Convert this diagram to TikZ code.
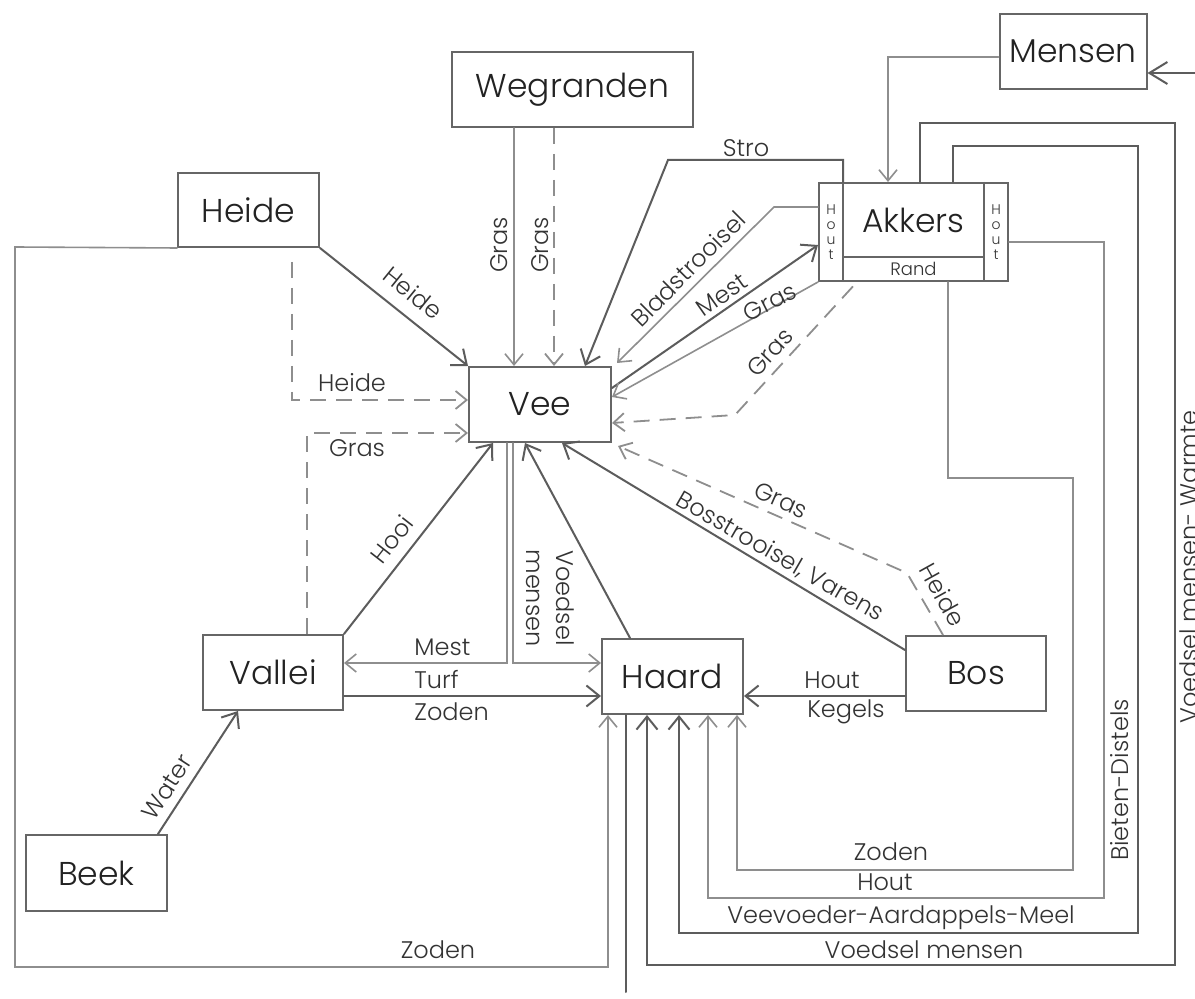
\documentclass[tikz,border=0pt]{standalone}
\usepackage{fontspec}
\setmainfont{Poppins Light}
\usetikzlibrary{arrows.meta,calc}
\definecolor{boxc}{HTML}{666666}
\definecolor{dkc}{HTML}{5C5C5C}
\definecolor{ltc}{HTML}{8E8E8E}
\definecolor{txt}{HTML}{222222}
\definecolor{lblc}{HTML}{333333}
\newcommand\myNodeFont{\fontsize{16.5}{18}\selectfont}
\newcommand\myLblFont{\fontsize{12}{15}\selectfont}
\begin{document}
\begin{tikzpicture}[x=0.5pt,y=-0.5pt,
  box/.style={draw=boxc, line width=1pt, minimum width=71pt, minimum height=37.5pt, inner sep=0pt, font=\myNodeFont, text=txt},
  dk/.style={draw=dkc, line width=1pt, line cap=round},
  lt/.style={draw=ltc, line width=0.8pt, line cap=round},
  dsh/.style={draw=ltc, line width=0.9pt, dash pattern=on 8pt off 5pt},
  tip/.style={-{Straight Barb[length=5.5pt,width=9pt]}},
  bigtip/.style={-{Straight Barb[length=6.5pt,width=10.5pt]}},
  mtip/.style={-{Straight Barb[length=9pt,width=11pt]}},
  lbl/.style={font=\myLblFont, text=lblc, inner sep=0pt},
  small/.style={font=\fontsize{7}{7.5}\selectfont, text=lblc, inner sep=0pt, align=center}
]
\fill[white] (0,0) rectangle (1195,999);
\useasboundingbox (0,0) rectangle (1195,999);

% ---------- nodes ----------
\node[box, minimum width=73.5pt] (Mensen) at (1073,51.5) {Mensen};
\node[box, minimum width=120.5pt] (Wegranden) at (572.5,89.5) {Wegranden};
\node[box, minimum width=70.5pt, minimum height=37pt] (Heide) at (248.5,210) {Heide};
\node[box] (Vee) at (540,404.5) {Vee};
\node[box, minimum width=70pt] (Vallei) at (273,672.5) {Vallei};
\node[box, minimum width=70.5pt] (Haard) at (672.5,676.5) {Haard};
\node[box, minimum width=70pt] (Bos) at (976,673.5) {Bos};
\node[box, minimum width=70.5pt, minimum height=38pt] (Beek) at (96.5,873) {Beek};
\node[box, minimum width=94.5pt, minimum height=49pt] (Akkers) at (913.5,232) {};
\node[font=\myNodeFont, text=txt, inner sep=0pt] (akt) at (913.5,220) {Akkers};
\draw[draw=boxc, line width=1pt] (Akkers.north -| 843,0) -- (Akkers.south -| 843,0);
\draw[draw=boxc, line width=1pt] (Akkers.north -| 984,0) -- (Akkers.south -| 984,0);
\draw[draw=boxc, line width=1pt] (843,257) -- (984,257);
\node[small] (houtL) at (831,232) {H\\o\\u\\t};
\node[small] (houtR) at (996,232) {H\\o\\u\\t};
\node[lbl, font=\fontsize{9}{10}\selectfont] (rand) at (913.5,269) {Rand};

\coordinate (mr) at (1195,73);
\coordinate (hd) at (626,992);

% ---------- connectors ----------
\draw[dk,mtip] (mr) -- (Mensen.east |- mr);
\draw[lt,tip] (Mensen.west |- 0,57) -| (Akkers.north -| 888,0);

\draw[dk,bigtip] (Akkers.north -| 920,0) -- (920,123) -- (1175,123) -- (1175,965) -- (647,965) -- (Haard.south -| 647,0);
\draw[dk,bigtip] (Akkers.north -| 953,0) -- (953,146) -- (1138,146) -- (1138,933) -- (679,933) -- (Haard.south -| 679,0);
\draw[lt,tip] (Akkers.east |- 0,242) -- (1104,242) -- (1104,898) -- (708,898) -- (Haard.south -| 708,0);
\draw[lt,tip] (Akkers.south -| 948,0) -- (948,478) -- (1073,478) -- (1073,870) -- (737,870) -- (Haard.south -| 737,0);
\draw[lt,tip] (Heide.south west) -- (15,247) -- (15,967) -- (608,967) -- (Haard.south -| 608,0);
\draw[dk] (Haard.south -| 626,0) -- (hd);

\draw[dk,bigtip] (Haard.north -| 630,0) -- (Vee.south -| 525,0);
\draw[lt,tip] (Vee.south -| 507,0) |- (Vallei.east |- 0,663);
\draw[lt,tip] (Vee.south -| 513,0) |- (Haard.west |- 0,663);
\draw[dk,bigtip] (Vallei.east |- 0,696) -- (Haard.west |- 0,696);
\draw[dk,bigtip] (Vallei.north east) -- (Vee.south -| 493,0);
\draw[dsh,tip] (Vallei.north -| 307,0) |- (Vee.west |- 0,433);
\draw[dsh,tip,shorten <=7pt] (Heide.south -| 292,0) |- (Vee.west |- 0,400);
\draw[dk,bigtip] (Heide.south east) -- (Vee.north west);
\draw[lt,tip] (Wegranden.south -| 514,0) -- (Vee.north -| 514,0);
\draw[dsh,tip] (Wegranden.south -| 554,0) -- (Vee.north -| 554,0);

\draw[dk,bigtip] (Akkers.north -| 843,0) -- (843,160) -- (668,160) -- (Vee.north -| 585,0);
\draw[lt,tip] (Akkers.west |- 0,207) -- (774,207) -- ($(Vee.north east)+(5,-3)$);
\draw[dk,bigtip] (Vee.east |- 0,388) -- (Akkers.west |- 0,245);
\draw[lt,tip] (Akkers.south west) -- (Vee.east |- 0,397);
\draw[dsh,tip,shorten <=3pt] (Akkers.south -| 857,0) -- (735,415) -- (Vee.east |- 0,423);
\draw[dsh,tip] (Bos.north -| 943,0) -- (907,573) -- ($(Vee.south east)+(6,3)$);
\draw[dk,bigtip] (Bos.west |- 0,650) -- (Vee.south -| 562,0);
\draw[dk,bigtip] (Bos.west |- 0,696) -- (Haard.east |- 0,696);
\draw[dk,bigtip] (Beek.north -| 158,0) -- (Vallei.south -| 238,0);

% ---------- labels ----------
\node[lbl, rotate=90] (l1) at (499,245) {Gras};
\node[lbl, rotate=90] (l2) at (540,245) {Gras};
\node[lbl, rotate=-39] (l3) at (413,293) {Heide};
\node[lbl] (l4) at (352,383) {Heide};
\node[lbl] (l5) at (357,448) {Gras};
\node[lbl, rotate=52] (l6) at (392,539) {Hooi};
\node[lbl] (l7) at (746,148) {Stro};
\node[lbl, rotate=45] (l8) at (688,269) {Bladstrooisel};
\node[lbl, rotate=35] (l9) at (722,295) {Mest};
\node[lbl, rotate=27] (l10) at (770,302) {Gras};
\node[lbl, rotate=47] (l11) at (770,352) {Gras};
\node[lbl, rotate=-24] (l12) at (781,500) {Gras};
\node[lbl, rotate=-61] (l13) at (943,595) {Heide};
\node[lbl, rotate=-30] (l14) at (780,557) {Bosstrooisel, Varens};
\node[lbl, rotate=-90, align=center, font=\fontsize{12}{15}\selectfont] (l15) at (550,598) {Voedsel\\mensen};
\node[lbl, anchor=west] (l16) at (414,647) {Mest};
\node[lbl, anchor=west] (l17) at (414,680) {Turf};
\node[lbl, anchor=west] (l18) at (414,712) {Zoden};
\node[lbl] (l19) at (832,680) {Hout};
\node[lbl] (l20) at (846,712) {Kegels};
\node[lbl, rotate=57] (l21) at (167,787) {Water};
\node[lbl] (l22) at (438,950) {Zoden};
\node[lbl] (l23) at (891,852) {Zoden};
\node[lbl] (l24) at (885,882) {Hout};
\node[lbl] (l25) at (901,918) {Veevoeder-Aardappels-Meel};
\node[lbl] (l26) at (924,950) {Voedsel mensen};
\node[lbl, rotate=90] (l27) at (1120,780) {Bieten-Distels};
\node[lbl, rotate=90] (l28) at (1189,567) {Voedsel mensen- Warmte};
\end{tikzpicture}
\end{document}
